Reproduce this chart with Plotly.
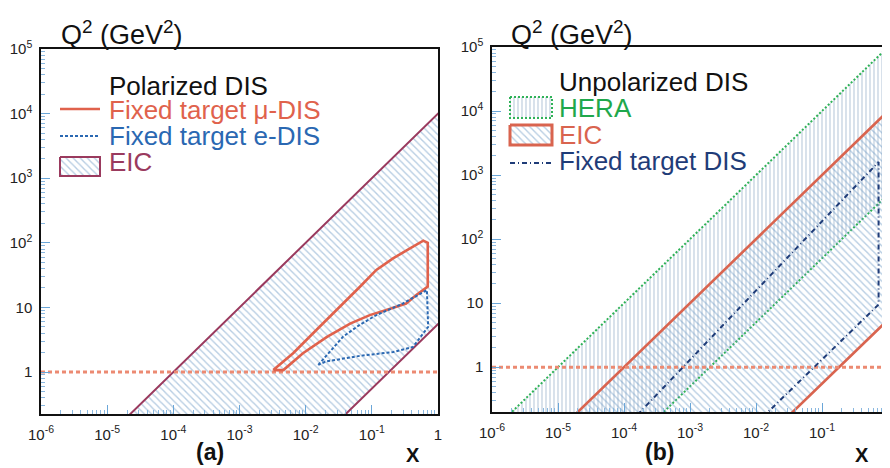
import plotly.graph_objects as go

# ---------------- data ----------------
x_tick_vals = [1e-6, 1e-5, 1e-4, 1e-3, 1e-2, 1e-1, 1]
x_tick_text = ["10<sup>-6</sup>", "10<sup>-5</sup>", "10<sup>-4</sup>", "10<sup>-3</sup>",
               "10<sup>-2</sup>", "10<sup>-1</sup>", "1"]
y_tick_vals = [1, 10, 1e2, 1e3, 1e4, 1e5]
y_tick_text = ["1", "10", "10<sup>2</sup>", "10<sup>3</sup>", "10<sup>4</sup>", "10<sup>5</sup>"]
minor_x_vals = [m * 10.0 ** e for e in range(-6, 0) for m in range(2, 10)]
minor_y_vals = [m * 10.0 ** e for e in range(-1, 5) for m in range(2, 10)]

# Q2 = 1 GeV^2 line (both panels)
q2cut_x = [1e-6, 1.0]
q2cut_q2 = [1.0, 1.0]

# (a) polarized DIS
eic_a_x = [1.0e-5, 1.2, 1.2, 0.018]
eic_a_q2 = [0.1, 1.2e4, 6.6, 0.1]

mu_dis_x = [3.24e-3, 6.46e-3, 0.0145, 0.0331, 0.0661, 0.117, 0.209, 0.372, 0.60, 0.70,
            0.70, 0.47, 0.33, 0.166, 0.093, 0.047, 0.021, 9.1e-3, 4.6e-3, 3.24e-3]
mu_dis_q2 = [1.07, 1.95, 4.47, 10.2, 20.9, 38.0, 57.5, 81.0, 108.0, 100.0,
             21.0, 15.5, 11.5, 9.1, 7.6, 5.6, 3.5, 1.95, 1.07, 1.07]

e_dis_x = [0.0155, 0.020, 0.037, 0.066, 0.117, 0.295, 0.68, 0.71, 0.42, 0.21, 0.066, 0.020, 0.0155]
e_dis_q2 = [1.29, 1.74, 3.55, 5.4, 7.6, 11.5, 18.6, 5.0, 2.45, 2.04, 1.78, 1.45, 1.29]

# (b) unpolarized DIS
hera_x = [1.0e-6, 1.2, 1.2, 2.0e-4]
hera_q2 = [0.1, 1.2e5, 600.0, 0.1]

eic_b_x = [1.0e-5, 1.2, 1.2, 0.018]
eic_b_q2 = [0.1, 1.2e4, 6.6, 0.1]

fixed_b_x = [1.6e-4, 0.72, 0.72, 0.0137]
fixed_b_q2 = [0.18, 1600.0, 9.5, 0.18]

# texts
panel_labels = ["(a)", "(b)"]
axis_title_y = "Q<sup>2</sup> (GeV<sup>2</sup>)"
axis_title_x = "X"
legend_a_title = "Polarized DIS"
legend_a_items = ["Fixed target \u03bc-DIS", "Fixed target e-DIS", "EIC"]
legend_b_title = "Unpolarized DIS"
legend_b_items = ["HERA", "EIC", "Fixed target DIS"]

# ---------------- styles ----------------
OFF = 8                      # page offset of the figure inside the browser window
W, H = 890 - OFF, 468 - OFF
HATCH = "#6f9cc6"
C_EIC_A = "#9a3a5e"
C_MU = "#e0624c"
C_E = "#2a68b2"
C_CUT = "#ec8a72"
C_HERA = "#2fb257"
C_EIC_B = "#d9644f"
C_FIX = "#1f3c78"
FONT = "Liberation Sans"

def px(x):
    return (x - OFF) / W

def py(y):
    return 1 - (y - OFF) / H

fig = go.Figure()

# ---- panel (a) ----
fig.add_trace(go.Scatter(x=eic_a_x, y=eic_a_q2, mode="lines", fill="toself",
                         fillcolor="rgba(0,0,0,0)",
                         fillpattern=dict(shape="\\", fgcolor=HATCH, size=5, solidity=0.28),
                         line=dict(color=C_EIC_A, width=2), xaxis="x", yaxis="y",
                         showlegend=False, hoverinfo="skip"))
fig.add_trace(go.Scatter(x=q2cut_x, y=q2cut_q2, mode="lines",
                         line=dict(color=C_CUT, width=3, dash="4px,3px"),
                         xaxis="x", yaxis="y", showlegend=False, hoverinfo="skip"))
fig.add_trace(go.Scatter(x=mu_dis_x, y=mu_dis_q2, mode="lines",
                         line=dict(color=C_MU, width=2.6), xaxis="x", yaxis="y",
                         showlegend=False, hoverinfo="skip"))
fig.add_trace(go.Scatter(x=e_dis_x, y=e_dis_q2, mode="lines",
                         line=dict(color=C_E, width=2, dash="3px,2px"), xaxis="x", yaxis="y",
                         showlegend=False, hoverinfo="skip"))

# ---- panel (b) ----
fig.add_trace(go.Scatter(x=hera_x, y=hera_q2, mode="lines", fill="toself",
                         fillcolor="rgba(0,0,0,0)",
                         fillpattern=dict(shape="|", fgcolor="#7d9cbc", size=4, solidity=0.3),
                         line=dict(color=C_HERA, width=2, dash="2px,2px"), xaxis="x2", yaxis="y2",
                         showlegend=False, hoverinfo="skip"))
fig.add_trace(go.Scatter(x=eic_b_x, y=eic_b_q2, mode="lines", fill="toself",
                         fillcolor="rgba(0,0,0,0)",
                         fillpattern=dict(shape="\\", fgcolor=HATCH, size=5, solidity=0.28),
                         line=dict(color=C_EIC_B, width=2.6), xaxis="x2", yaxis="y2",
                         showlegend=False, hoverinfo="skip"))
fig.add_trace(go.Scatter(x=q2cut_x, y=q2cut_q2, mode="lines",
                         line=dict(color=C_CUT, width=3, dash="4px,3px"),
                         xaxis="x2", yaxis="y2", showlegend=False, hoverinfo="skip"))
fig.add_trace(go.Scatter(x=fixed_b_x, y=fixed_b_q2, mode="lines",
                         line=dict(color=C_FIX, width=2, dash="5px,3px,1px,3px"),
                         xaxis="x2", yaxis="y2", showlegend=False, hoverinfo="skip"))

# ---- hand-drawn legend swatches (overlay axis in window-pixel units) ----
LEG = dict(xaxis="x3", yaxis="y3", showlegend=False, hoverinfo="skip", mode="lines")
fig.add_trace(go.Scatter(x=[60, 100], y=[109, 109], line=dict(color=C_MU, width=2.6), **LEG))
fig.add_trace(go.Scatter(x=[60, 100], y=[136, 136], line=dict(color=C_E, width=2, dash="3px,2px"), **LEG))
fig.add_trace(go.Scatter(x=[60, 100, 100, 60, 60], y=[157, 157, 176, 176, 157], fill="toself",
                         fillcolor="rgba(0,0,0,0)",
                         fillpattern=dict(shape="\\", fgcolor=HATCH, size=5, solidity=0.28),
                         line=dict(color=C_EIC_A, width=2), **LEG))
fig.add_trace(go.Scatter(x=[510, 552, 552, 510, 510], y=[97, 97, 118, 118, 97], fill="toself",
                         fillcolor="rgba(0,0,0,0)",
                         fillpattern=dict(shape="|", fgcolor="#7d9cbc", size=4, solidity=0.3),
                         line=dict(color=C_HERA, width=2, dash="2px,2px"), **LEG))
fig.add_trace(go.Scatter(x=[510, 552, 552, 510, 510], y=[125, 125, 145, 145, 125], fill="toself",
                         fillcolor="rgba(0,0,0,0)",
                         fillpattern=dict(shape="\\", fgcolor=HATCH, size=5, solidity=0.28),
                         line=dict(color=C_EIC_B, width=3), **LEG))
fig.add_trace(go.Scatter(x=[510, 552], y=[163, 163], line=dict(color=C_FIX, width=2, dash="5px,3px,1px,3px"), **LEG))

axis_x = dict(type="log", range=[-6, 0], showgrid=False, zeroline=False, showline=True,
              linecolor="#111", linewidth=1.5, mirror=True, ticks="inside", ticklen=9,
              tickwidth=1, tickcolor="#6aa6d8", tickmode="array", tickvals=x_tick_vals,
              ticktext=x_tick_text, tickfont=dict(family=FONT, size=15, color="#222"),
              ticklabelstandoff=6, automargin=False,
              minor=dict(ticks="inside", ticklen=4, tickcolor="#8ab8e0", tickmode="array",
                         tickvals=minor_x_vals), fixedrange=True)
axis_y = dict(type="log", showgrid=False, zeroline=False, showline=True,
              linecolor="#111", linewidth=1.5, mirror=True, ticks="inside", ticklen=9,
              tickwidth=1, tickcolor="#6aa6d8", tickmode="array", tickvals=y_tick_vals,
              ticktext=y_tick_text, tickfont=dict(family=FONT, size=15, color="#222"),
              ticklabelstandoff=4, automargin=False,
              minor=dict(ticks="inside", ticklen=4, tickcolor="#8ab8e0", tickmode="array",
                         tickvals=minor_y_vals), fixedrange=True)

fig.update_layout(
    width=W, height=H, margin=dict(l=0, r=0, t=0, b=0, pad=0, autoexpand=False),
    paper_bgcolor="white", plot_bgcolor="rgba(0,0,0,0)", showlegend=False,
    xaxis=dict(axis_x, domain=[px(41), px(438)], anchor="y"),
    yaxis=dict(axis_y, domain=[py(414), py(49)], range=[-0.65, 5], anchor="x"),
    xaxis2=dict(axis_x, domain=[px(492), px(888)], anchor="y2"),
    yaxis2=dict(axis_y, domain=[py(412), py(47)], range=[-0.70, 5], anchor="x2"),
    xaxis3=dict(domain=[0, 1], range=[OFF, OFF + W], visible=False, fixedrange=True, anchor="y3",
                automargin=False),
    yaxis3=dict(domain=[0, 1], range=[OFF + H, OFF], visible=False, fixedrange=True, anchor="x3",
                automargin=False),
)

ann = []
def text(x, y, s, size, color, bold=False, xanchor="left"):
    ann.append(dict(x=px(x), y=py(y), xref="paper", yref="paper", text=(f"<b>{s}</b>" if bold else s),
                    showarrow=False, xanchor=xanchor, yanchor="middle",
                    font=dict(family=FONT, size=size, color=color)))

text(59, 33, axis_title_y, 27, "#111")
text(509, 33, axis_title_y, 27, "#111")
text(210, 452, panel_labels[0], 23, "#111", bold=True, xanchor="center")
text(659, 452, panel_labels[1], 23, "#111", bold=True, xanchor="center")
text(413, 455, axis_title_x, 20, "#111", bold=True, xanchor="center")
text(862, 455, axis_title_x, 20, "#111", bold=True, xanchor="center")

LS = 26
text(107, 86, legend_a_title, LS, "#111")
text(107, 110, legend_a_items[0], LS, C_MU)
text(107, 136, legend_a_items[1], LS, C_E)
text(107, 162, legend_a_items[2], LS, C_EIC_A)

text(557, 82, legend_b_title, LS, "#111")
text(557, 108, legend_b_items[0], LS, "#1fa84c")
text(557, 135, legend_b_items[1], LS, C_EIC_B)
text(557, 161, legend_b_items[2], LS, C_FIX)

fig.update_layout(annotations=ann)
fig.write_html("out.html")
